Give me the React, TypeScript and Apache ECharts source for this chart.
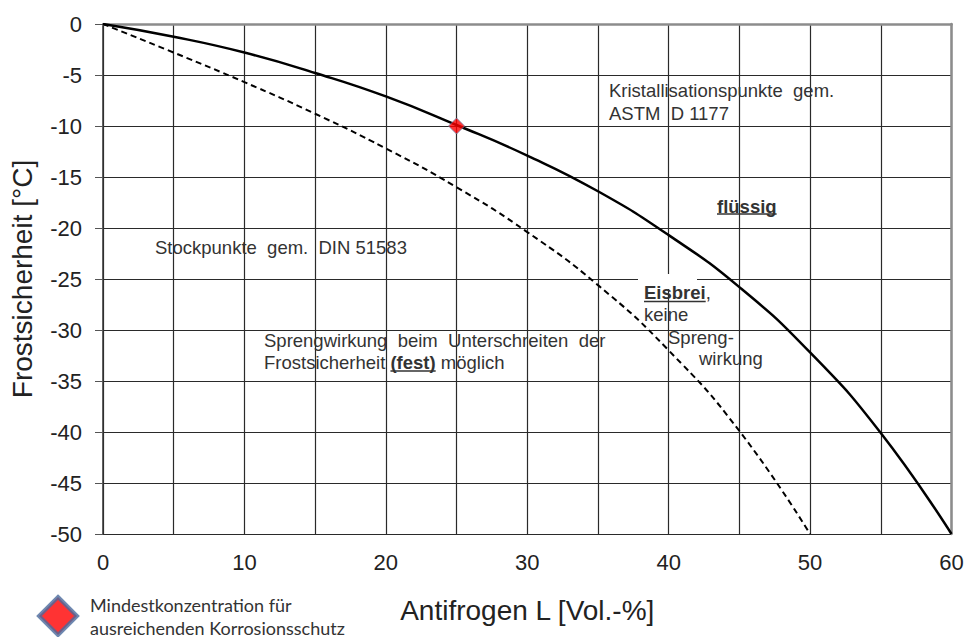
import React, { useEffect, useRef } from "react";
import * as echarts from "echarts";

// Antifrogen L concentration [Vol.-%]
const crystConcentration = [0, 5, 10, 15, 20, 25, 30, 35, 40, 45, 50, 55, 60];
// Kristallisationspunkte gem. ASTM D 1177 [°C]
const crystPoints = [0, -1.25, -2.8, -4.8, -7.1, -9.9, -12.9, -16.4, -20.7, -25.8, -32.2, -40.1, -50];
const pourConcentration = [0, 5, 10, 15, 20, 25, 30, 35, 40, 45, 50];
// Stockpunkte gem. DIN 51583 [°C]
const pourPoints = [0, -2.8, -5.7, -8.8, -12.2, -16.0, -20.4, -25.6, -32.0, -39.9, -50];
// Mindestkonzentration
const minConcentration = [25];
const minConcentrationTemp = [-10];

const xTickLabels = ["0", "10", "20", "30", "40", "50", "60"];
const legendName = "Mindestkonzentration für\nausreichenden Korrosionsschutz";

const FONT = "'Liberation Sans', Arial, sans-serif";
const ANN_SIZE = 18.5;
const ANN_COLOR = "#333333";

function measure(text: string, bold = false) {
  const ctx = document.createElement("canvas").getContext("2d")!;
  ctx.font = `${bold ? "bold " : ""}${ANN_SIZE}px 'Liberation Sans', Arial, sans-serif`;
  return ctx.measureText(text).width;
}

export default function App() {
  const ref = useRef<HTMLDivElement>(null);
  useEffect(() => {
    document.body.style.margin = "0";
    const chart = echarts.init(ref.current!, undefined, { renderer: "svg" });

    const txt = (text: string, x: number, y: number, bold = false) => ({
      type: "text",
      x,
      y,
      z: 10,
      style: {
        text,
        fontSize: ANN_SIZE,
        fontFamily: FONT,
        fontWeight: bold ? "bold" : "normal",
        fill: ANN_COLOR,
        verticalAlign: "middle",
        align: "left",
      },
    });
    const underline = (x: number, y: number, w: number) => ({
      type: "line",
      z: 10,
      shape: { x1: x, y1: y, x2: x + w, y2: y },
      style: { stroke: ANN_COLOR, lineWidth: 1.6 },
    });

    const festX = 264 + measure("Frostsicherheit ");
    const richLine = {
      type: "text",
      x: 264,
      y: 362.5,
      z: 10,
      style: {
        text: "{n|Frostsicherheit }{b|(fest)}{n| möglich}",
        verticalAlign: "middle",
        rich: {
          n: { fontSize: ANN_SIZE, fontFamily: FONT, fill: ANN_COLOR, color: ANN_COLOR },
          b: { fontSize: ANN_SIZE, fontFamily: FONT, fontWeight: "bold", fill: ANN_COLOR, color: ANN_COLOR },
        },
      },
    };
    const eisX = 644;
    const eisW = measure("Eisbrei", true);

    chart.setOption({
      animation: false,
      backgroundColor: "#ffffff",
      grid: {
        left: 103,
        right: 13.5,
        top: 24,
        bottom: 103,
        containLabel: false,
        outerBoundsMode: "none",
      },
      xAxis: {
        type: "value",
        min: 0,
        max: 60,
        interval: 5,
        name: "Antifrogen L [Vol.-%]",
        nameLocation: "middle",
        nameGap: 62,
        nameTextStyle: { fontSize: 28, fontFamily: FONT, color: "#222" },
        axisLine: { show: true, lineStyle: { color: "#8c8c8c", width: 2.5 } },
        axisTick: { show: false },
        axisLabel: {
          fontSize: 22,
          fontFamily: FONT,
          color: "#222",
          margin: 17,
          formatter: (v: number) => {
            const s = String(v);
            return xTickLabels.includes(s) ? s : "";
          },
        },
        splitLine: { show: true, lineStyle: { color: "#2a2a2a", width: 1.2 } },
      },
      yAxis: [
        {
          type: "value",
          min: -50,
          max: 0,
          interval: 5,
          name: "Frostsicherheit [°C]",
          nameLocation: "middle",
          nameRotate: 90,
          nameGap: 67,
          nameTextStyle: { fontSize: 28, fontFamily: FONT, color: "#222" },
          axisLine: { show: true, lineStyle: { color: "#333", width: 1.5 } },
          axisTick: { show: true, length: 8, lineStyle: { color: "#555" } },
          axisLabel: { fontSize: 22, fontFamily: FONT, color: "#222", margin: 21 },
          splitLine: { show: true, lineStyle: { color: "#2a2a2a", width: 1.2 } },
        },
        {
          type: "value",
          position: "right",
          min: -50,
          max: 0,
          interval: 5,
          axisLine: { show: true, lineStyle: { color: "#8c8c8c", width: 2.5 } },
          axisTick: { show: false },
          axisLabel: { show: false },
          splitLine: { show: false },
        },
      ],
      legend: {
        show: true,
        left: 37,
        top: 593,
        padding: 0,
        orient: "vertical",
        icon: "diamond",
        itemWidth: 38,
        itemHeight: 38,
        itemStyle: { color: "#ff0000", borderColor: "#4a6a9c", borderWidth: 4 },
        textStyle: {
          fontFamily: "Lato, 'Open Sans', sans-serif",
          fontSize: 18,
          color: "#333",
          lineHeight: 23,
          padding: [0, 0, 0, 8],
        },
        data: [legendName],
        selectedMode: false,
      },
      series: [
        {
          name: "Kristallisationspunkte",
          type: "line",
          data: crystConcentration.map((c, i) => [c, crystPoints[i]]),
          smooth: 0.5,
          symbol: "none",
          lineStyle: { color: "#000", width: 2.5 },
          z: 3,
        },
        {
          name: "Stockpunkte",
          type: "line",
          data: pourConcentration.map((c, i) => [c, pourPoints[i]]),
          smooth: 0.5,
          symbol: "none",
          lineStyle: { color: "#000", width: 2, type: [6, 4] },
          z: 3,
        },
        {
          name: legendName,
          type: "scatter",
          data: minConcentration.map((c, i) => [c, minConcentrationTemp[i]]),
          symbol: "diamond",
          symbolSize: 16,
          itemStyle: { color: "#ff0000", borderColor: "#6f7fa6", borderWidth: 1 },
          z: 5,
        },
      ],
      graphic: [
        {
          type: "rect",
          z: 1,
          shape: { x: 638, y: 274, width: 59, height: 15 },
          style: { fill: "#ffffff" },
        },
        txt("Kristallisationspunkte  gem.", 609, 90),
        txt("ASTM  D 1177", 609, 113),
        txt("flüssig", 717, 206, true),
        underline(717, 214, measure("flüssig", true)),
        txt("Stockpunkte  gem.  DIN 51583", 155, 247),
        txt("Eisbrei", eisX, 292, true),
        underline(eisX, 301.5, eisW),
        txt(",", eisX + eisW, 292),
        txt("keine", 644, 314),
        txt("Spreng-", 668, 337),
        txt("wirkung", 699, 358.5),
        txt("Sprengwirkung  beim  Unterschreiten  der", 264, 340.5),
        richLine,
        underline(festX, 371, measure("(fest)", true)),
      ],
    });
    return () => chart.dispose();
  }, []);
  return <div ref={ref} style={{ width: 965, height: 637 }} />;
}
